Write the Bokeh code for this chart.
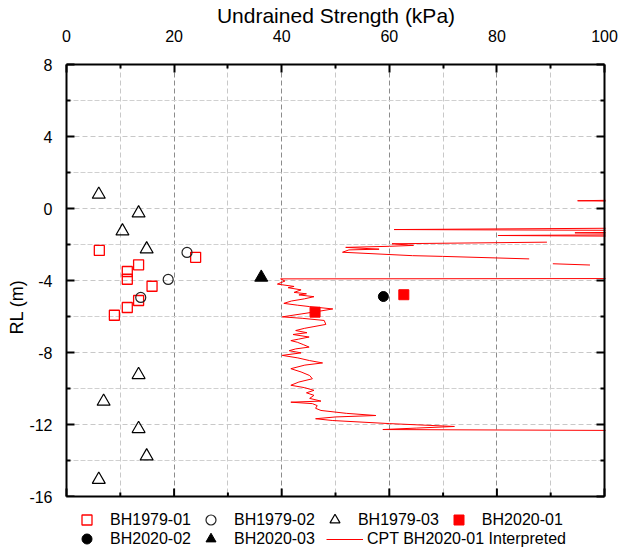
import math
from bokeh.plotting import figure
from bokeh.models import (Range1d, FixedTicker, Legend, LegendItem, Title, BoxAnnotation)
from bokeh.embed import file_html
from bokeh.resources import INLINE

FONT = "Liberation Sans"
RED = "#ff0000"

# Laboratory / field vane undrained strengths, Su (kPa) against reduced level RL (m)
bh1979_01_su = [6.1, 24.0, 13.4, 11.3, 11.3, 15.9, 13.4, 11.3, 8.9]
bh1979_01_rl = [-2.33, -2.71, -3.13, -3.50, -3.93, -4.32, -5.11, -5.50, -5.93]

bh1979_02_su = [22.4, 18.9, 13.8]
bh1979_02_rl = [-2.44, -3.94, -4.94]

bh1979_03_su = [6.0, 13.4, 10.4, 14.9, 13.4, 6.9, 13.4, 14.9, 6.0]
bh1979_03_rl = [0.78, -0.26, -1.26, -2.26, -9.24, -10.72, -12.24, -13.76, -15.06]

bh2020_01_su = [62.7, 46.2]
bh2020_01_rl = [-4.79, -5.76]

bh2020_02_su = [58.9]
bh2020_02_rl = [-4.89]

bh2020_03_su = [36.2]
bh2020_03_rl = [-3.83]

# CPT-interpreted Su profile (NaN marks breaks in the record)
nan = float("nan")
cpt_su = [110, 95.0, 110, 110, 60.9, 110, 110, 94.5, 110, 110, 80.2, 110, nan,
          89.3, 60.5, 64.5, 60.0, 51.9, 58.1, 52.5, 51.3, 64.3, 69.9, 86.0, nan,
          90.4, 97.3, nan,
          110, 39.8, 40.6, 39.2, 42.3, 41.2, 43.6, 42.3, 44.6, 43.2, 46.0, 44.2,
          41.8, 40.4, 42.9, 45.2, 49.5, 46.7, 43.6, 40.1, 43.8, 47.9, 48.2, 46.0,
          44.2, 42.6, 44.7, 42.1, 45.1, 43.1, 41.7, 42.9, 44.0, 45.1, 42.6, 41.4,
          43.6, 40.1, 43.0, 45.2, 47.6, 44.3, 41.7, 43.6, 45.2, 45.7, 43.2, 41.7,
          44.2, 46.0, 44.6, 46.0, 45.2, 47.3, 41.7, 45.7, 46.6, 46.3, 47.3, 52.0,
          57.5, 50.0, 46.3, 49.5, 60.0, 72.1, 65.0, 58.8, 110]
cpt_rl = [0.50, 0.43, 0.38, -1.08, -1.17, -1.22, -1.30, -1.35, -1.40, -1.45, -1.50, -1.55, nan,
          -1.87, -1.96, -2.05, -2.10, -2.16, -2.26, -2.30, -2.43, -2.62, -2.66, -2.80, nan,
          -3.07, -3.14, nan,
          -3.89, -3.91, -4.03, -4.20, -4.33, -4.40, -4.52, -4.66, -4.74, -4.80, -4.90, -5.02,
          -5.14, -5.27, -5.37, -5.45, -5.58, -5.72, -5.86, -6.02, -6.10, -6.22, -6.44, -6.56,
          -6.66, -6.78, -6.90, -7.00, -7.14, -7.26, -7.34, -7.43, -7.56, -7.70, -7.80, -7.90,
          -8.02, -8.16, -8.30, -8.45, -8.58, -8.70, -8.90, -9.08, -9.28, -9.46, -9.64, -9.82,
          -9.95, -10.10, -10.24, -10.38, -10.55, -10.70, -10.76, -10.84, -10.95, -11.10, -11.22, -11.38,
          -11.50, -11.58, -11.68, -11.78, -11.95, -12.11, -12.20, -12.28, -12.34]

x_major = [0, 20, 40, 60, 80, 100]
x_minor = [10, 30, 50, 70, 90]
y_major = [-16, -12, -8, -4, 0, 4, 8]
y_minor = [-14, -10, -6, -2, 2, 6]
y_labels = ["-16", "-12", "-8", "-4", "0", "4", "8"]
X_MIN, X_MAX, Y_MIN, Y_MAX = 0, 100, -16, 8

# Page geometry: plot box 538 x 432 px, with a 53 px strip below it for the legend
BOX_W, BOX_H, STRIP_H = 538, 432, 53
px_per_y = BOX_H / (Y_MAX - Y_MIN)
y_bottom = Y_MIN - STRIP_H / px_per_y          # frame runs on under the box to hold the legend
x_right = X_MAX * (BOX_W + 1) / BOX_W          # one spare pixel so the right edge is not clipped

p = figure(width=620, height=549,
           x_range=Range1d(X_MIN, x_right), y_range=Range1d(y_bottom, Y_MAX),
           x_axis_location="above", output_backend="svg", toolbar_location=None,
           min_border_left=66, min_border_top=64, min_border_right=15, min_border_bottom=0)
p.outline_line_color = None
p.background_fill_color = "white"

xt = FixedTicker(ticks=x_major, minor_ticks=x_minor)
yt = FixedTicker(ticks=y_major, minor_ticks=y_minor)

# Grid lines
p.xgrid.ticker = xt
p.ygrid.ticker = yt
p.xgrid.grid_line_color = "#8c8c8c"
p.xgrid.grid_line_dash = "5 3"
p.xgrid.minor_grid_line_color = "#c8c8c8"
p.xgrid.minor_grid_line_dash = "5 3"
p.ygrid.grid_line_color = "#c8c8c8"
p.ygrid.grid_line_dash = "5 3"
p.ygrid.minor_grid_line_color = "#d0d0d0"
p.ygrid.minor_grid_line_dash = "5 2"


def style_axis(ax):
    ax.axis_line_width = 2
    ax.axis_line_color = "black"
    ax.major_tick_in = 8
    ax.major_tick_out = 0
    ax.minor_tick_in = 4
    ax.minor_tick_out = 0
    ax.major_tick_line_width = 2
    ax.minor_tick_line_width = 2
    ax.major_tick_line_color = "black"
    ax.minor_tick_line_color = "black"
    ax.major_label_text_font = FONT
    ax.major_label_text_font_size = "16px"
    ax.major_label_text_color = "black"
    ax.axis_label_text_font = FONT
    ax.axis_label_text_font_style = "normal"
    ax.axis_label_text_color = "black"


top = p.xaxis[0]
top.ticker = xt
top.bounds = (X_MIN, X_MAX)
style_axis(top)
top.axis_label = "Undrained Strength (kPa)"
top.axis_label_text_font_size = "21px"
top.major_label_standoff = 23
top.axis_label_standoff = 0

left = p.yaxis[0]
left.ticker = yt
left.bounds = (Y_MIN, Y_MAX)
style_axis(left)
left.major_label_overrides = dict(zip(y_major, y_labels))
left.major_label_standoff = 14

p.add_layout(Title(text="RL (m)", align="center", offset=6, standoff=0,
                   text_font=FONT, text_font_size="18px", text_font_style="normal",
                   text_color="black"), "left")

# White strip under the plot box (hides grid lines there)
p.add_layout(BoxAnnotation(top=Y_MIN, fill_color="white", fill_alpha=1.0, line_color=None))

# Data
cpt = p.line(cpt_su, cpt_rl, line_color=RED, line_width=1)
r1 = p.scatter(bh1979_01_su, bh1979_01_rl, marker="square", size=10,
               fill_color=None, line_color=RED, line_width=1.3)
r2 = p.scatter(bh1979_02_su, bh1979_02_rl, marker="circle", size=10,
               fill_color=None, line_color="#222222", line_width=1.2)
r3 = p.scatter(bh1979_03_su, bh1979_03_rl, marker="triangle", size=13,
               fill_color=None, line_color="black", line_width=1.2)
r4 = p.scatter(bh2020_01_su, bh2020_01_rl, marker="square", size=10,
               fill_color=RED, line_color=RED)
r5 = p.scatter(bh2020_02_su, bh2020_02_rl, marker="circle", size=10,
               fill_color="black", line_color="black")
r6 = p.scatter(bh2020_03_su, bh2020_03_rl, marker="triangle", size=13,
               fill_color="black", line_color="black")

# Bottom and right edges of the plot box, with inward ticks
p.segment(x0=[X_MIN, X_MAX], y0=[Y_MIN, Y_MIN], x1=[X_MAX, X_MAX], y1=[Y_MIN, Y_MAX],
          line_color="black", line_width=2, level="overlay")
p.ray(x=x_major, y=[Y_MIN] * len(x_major), length=8, angle=math.pi / 2,
      length_units="screen", line_color="black", line_width=2, level="overlay")
p.ray(x=x_minor, y=[Y_MIN] * len(x_minor), length=4, angle=math.pi / 2,
      length_units="screen", line_color="black", line_width=2, level="overlay")
p.ray(x=[X_MAX] * len(y_major), y=y_major, length=8, angle=math.pi,
      length_units="screen", line_color="black", line_width=2, level="overlay")
p.ray(x=[X_MAX] * len(y_minor), y=y_minor, length=4, angle=math.pi,
      length_units="screen", line_color="black", line_width=2, level="overlay")


def make_legend(items, loc, gw, gh, standoff, spacing):
    return Legend(items=items, location=loc, orientation="horizontal",
                  glyph_width=gw, glyph_height=gh, label_height=gh,
                  label_standoff=standoff, spacing=spacing, padding=0, margin=0,
                  border_line_color=None, background_fill_alpha=0,
                  label_text_font=FONT, label_text_font_size="16px",
                  label_text_color="black")


leg1 = make_legend([LegendItem(label="BH1979-01", renderers=[r1]),
                    LegendItem(label="BH1979-02", renderers=[r2]),
                    LegendItem(label="BH1979-03", renderers=[r3]),
                    LegendItem(label="BH2020-01", renderers=[r4])], (8, 17), 25, 25, 11, 7)
leg2 = make_legend([LegendItem(label="BH2020-02", renderers=[r5]),
                    LegendItem(label="BH2020-03", renderers=[r6])], (8, -2), 25, 25, 11, 7)
leg3 = make_legend([LegendItem(label="CPT BH2020-01 Interpreted", renderers=[cpt])],
                   (260, 0), 37, 20, 4, 10)
for lg in (leg1, leg2, leg3):
    p.add_layout(lg, "center")

open("out.html", "w").write(file_html(p, INLINE))
